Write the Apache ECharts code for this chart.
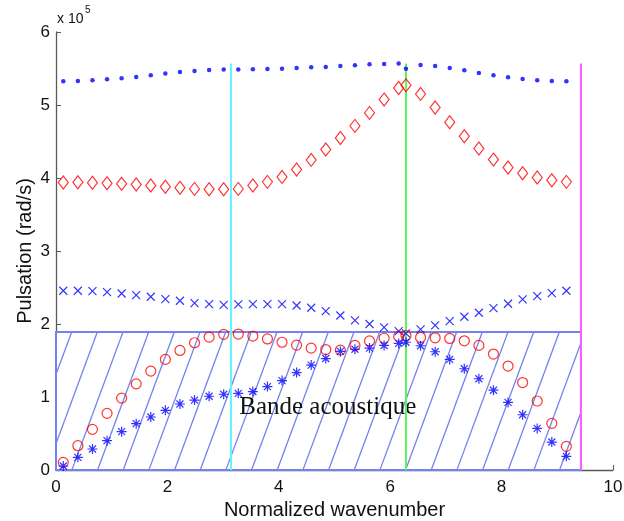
<!DOCTYPE html>
<html>
<head>
<meta charset="utf-8">
<script src="https://cdn.jsdelivr.net/npm/echarts@6/dist/echarts.min.js"></script>
<style>
html,body{margin:0;padding:0;background:#fff;}
#chart{width:624px;height:521px;}
</style>
</head>
<body>
<div id="chart"></div>
<script>
// ---- data ----
const X = [0.1309,0.3927,0.6545,0.9163,1.1781,1.4399,1.7017,1.9635,2.2253,2.4871,2.7489,3.0107,
  3.2725,3.5343,3.7961,4.0579,4.3197,4.5815,4.8433,5.1051,5.3669,5.6287,5.8905,6.1523,
  6.2832,
  6.5450,6.8068,7.0686,7.3304,7.5922,7.8540,8.1158,8.3776,8.6394,8.9012,9.1630];
const dotsTop = [5.325,5.330,5.339,5.353,5.366,5.384,5.407,5.430,5.453,5.467,5.480,5.485,
  5.485,5.489,5.494,5.498,5.508,5.517,5.521,5.535,5.544,5.558,5.562,5.567,
  5.498,
  5.549,5.535,5.508,5.476,5.439,5.407,5.380,5.357,5.339,5.330,5.325];
const diamonds = [3.938,3.943,3.934,3.929,3.920,3.911,3.897,3.879,3.865,3.851,3.847,3.847,
  3.851,3.897,3.947,4.015,4.116,4.248,4.390,4.549,4.714,4.892,5.074,5.234,
  5.270,
  5.152,4.965,4.764,4.572,4.403,4.252,4.143,4.066,4.006,3.970,3.947];
const crosses = [2.455,2.455,2.450,2.437,2.418,2.396,2.373,2.341,2.318,2.286,2.272,2.263,
  2.268,2.272,2.272,2.272,2.254,2.222,2.177,2.117,2.050,2.000,1.953,1.903,
  1.871,
  1.926,1.981,2.040,2.099,2.154,2.218,2.277,2.337,2.382,2.423,2.455];
const circles = [0.105,0.333,0.557,0.776,0.985,1.180,1.355,1.515,1.638,1.743,1.821,1.858,
  1.862,1.835,1.795,1.750,1.711,1.670,1.650,1.642,1.706,1.768,1.805,1.830,
  1.842,
  1.816,1.811,1.802,1.770,1.707,1.588,1.424,1.198,0.945,0.639,0.324];
const stars = [0.055,0.173,0.288,0.402,0.525,0.635,0.726,0.817,0.904,0.958,1.010,1.038,
  1.050,1.075,1.143,1.225,1.335,1.437,1.527,1.625,1.654,1.670,1.706,1.734,
  1.750,
  1.702,1.620,1.515,1.387,1.250,1.093,0.926,0.757,0.570,0.383,0.187];
const bandX = [0, 9.4248];      // acoustic band extent (x)
const bandTop = 1.89;           // acoustic band upper limit (x1e5)
const vLinesX = [3.1416, 6.2832, 9.4248];
const vLineTop = 5.567;
const xTicks = ['0','2','4','6','8','10'];
const yTicks = ['0','1','2','3','4','5','6'];
const bandLabel = 'Bande acoustique';
const bandLabelAt = [3.29, 0.86];

// ---- helpers ----
function pairs(ys){ return X.map((x,i)=>[x, ys[i]]); }

function makeHatch(){
  const W = 77, H = 208, off = 14.9;
  const c = document.createElement('canvas');
  c.width = W; c.height = H;
  const ctx = c.getContext('2d');
  ctx.fillStyle = '#ffffff';
  ctx.fillRect(0,0,W,H);
  ctx.strokeStyle = '#7282ee';
  ctx.lineWidth = 1.3;
  const step = W/3;
  for (let k=-7; k<=4; k++){
    const x0 = k*step + off;
    ctx.beginPath();
    ctx.moveTo(x0, H);
    ctx.lineTo(x0 + W, 0);
    ctx.stroke();
  }
  return c;
}
const hatch = makeHatch();

const chart = echarts.init(document.getElementById('chart'), null, {renderer:'canvas'});
const axisColor = '#5a5a5a';
const font = 'Liberation Sans, Arial, Helvetica, sans-serif';

const markerBase = {type:'scatter', z:5, animation:false, silent:true};

const option = {
  animation:false,
  backgroundColor:'#ffffff',
  grid:{left:56, right:11, top:32, bottom:51, containLabel:false, outerBoundsMode:'none'},
  xAxis:{
    type:'value', min:0, max:10, interval:2,
    name:'Normalized wavenumber', nameLocation:'middle', nameGap:30, nameMoveOverlap:false,
    nameTextStyle:{fontFamily:font, fontSize:20, color:'#111'},
    axisLine:{show:true, onZero:false, lineStyle:{color:axisColor, width:1.3}},
    axisTick:{show:true, inside:true, length:5, lineStyle:{color:axisColor}},
    axisLabel:{fontFamily:font, fontSize:17, color:'#111', margin:9,
      formatter:(v)=>xTicks[Math.round(v/2)]},
    splitLine:{show:false}
  },
  yAxis:{
    type:'value', min:0, max:6, interval:1,
    name:'Pulsation (rad/s)', nameLocation:'middle', nameGap:21, nameMoveOverlap:false,
    nameTextStyle:{fontFamily:font, fontSize:20, color:'#111'},
    axisLine:{show:true, onZero:false, lineStyle:{color:axisColor, width:1.3}},
    axisTick:{show:true, inside:true, length:5, lineStyle:{color:axisColor}},
    axisLabel:{fontFamily:font, fontSize:17, color:'#111', margin:6,
      formatter:(v)=>yTicks[Math.round(v)]},
    splitLine:{show:false}
  },
  graphic:[
    {type:'text', left:57, top:12, style:{text:'x 10', font:'14px Liberation Sans, Arial, sans-serif', fill:'#111'}},
    {type:'text', left:85, top:5, style:{text:'5', font:'10px Liberation Sans, Arial, sans-serif', fill:'#111'}}
  ],
  series:[
    {
      type:'custom', z:1, silent:true,
      data:[[bandX[0], 0, bandX[1], bandTop]],
      renderItem:function(params, api){
        const p0 = api.coord([api.value(0), api.value(1)]);
        const p1 = api.coord([api.value(2), api.value(3)]);
        return {
          type:'polygon',
          shape:{points:[[p0[0],p0[1]],[p0[0],p1[1]],[p1[0],p1[1]],[p1[0],p0[1]]]},
          style:{fill:{image:hatch, repeat:'repeat'}, stroke:'#7282ee', lineWidth:2}
        };
      }
    },
    {
      type:'custom', z:2, silent:true,
      data:[bandLabelAt],
      renderItem:function(params, api){
        const p = api.coord([api.value(0), api.value(1)]);
        return {type:'text', x:p[0], y:p[1],
          style:{text:bandLabel, font:'25px Liberation Serif, Times New Roman, serif', fill:'#111',
                 align:'left', verticalAlign:'middle'}};
      }
    },
    ...vLinesX.map((vx,i)=>({
      type:'line', z:3, silent:true, symbol:'none', animation:false,
      data:[[vx,0],[vx,vLineTop]],
      lineStyle:{color:['#5ff5ff','#5cf55c','#ff5cff'][i], width:2}
    })),
    Object.assign({}, markerBase, {
      data:pairs(dotsTop), symbol:'circle', symbolSize:4.5,
      itemStyle:{color:'#0000ff'}
    }),
    Object.assign({}, markerBase, {
      data:pairs(diamonds), symbol:'diamond', symbolSize:[10,13],
      itemStyle:{color:'rgba(0,0,0,0)', borderColor:'#ff0000', borderWidth:1.2}
    }),
    Object.assign({}, markerBase, {
      data:pairs(crosses), symbol:'path://M0,0L10,10M10,0L0,10', symbolSize:8,
      itemStyle:{color:'#0000ff', borderColor:'#0000ff', borderWidth:1.2}
    }),
    Object.assign({}, markerBase, {
      data:pairs(circles), symbol:'circle', symbolSize:10,
      itemStyle:{color:'rgba(0,0,0,0)', borderColor:'#ff0000', borderWidth:1.2}
    }),
    Object.assign({}, markerBase, {
      data:pairs(stars), symbol:'path://M5,0L5,10M0,5L10,5M1.5,1.5L8.5,8.5M8.5,1.5L1.5,8.5', symbolSize:10,
      itemStyle:{color:'#0000ff', borderColor:'#0000ff', borderWidth:1.2}
    })
  ]
};
chart.setOption(option);
</script>
</body>
</html>
